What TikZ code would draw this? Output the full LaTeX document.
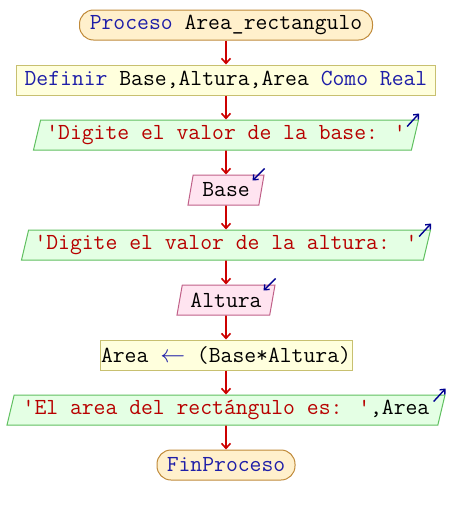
\documentclass[tikz,border=0pt]{standalone}
\usepackage{fontspec}
\usetikzlibrary{arrows.meta,shapes.geometric}
\definecolor{kwblue}{HTML}{1E1EA8}
\definecolor{strred}{HTML}{B80000}
\definecolor{flowred}{HTML}{CC0000}
\definecolor{iodark}{HTML}{000090}
\definecolor{termfill}{HTML}{FFF0CC}
\definecolor{termline}{HTML}{C08A3A}
\definecolor{procfill}{HTML}{FFFFDD}
\definecolor{procline}{HTML}{C8C070}
\definecolor{outfill}{HTML}{E4FFE4}
\definecolor{outline}{HTML}{60C060}
\definecolor{infill}{HTML}{FFE4F0}
\definecolor{inline}{HTML}{C06088}

\begin{document}
\begin{tikzpicture}[x=1pt,y=-1pt,font=\ttfamily\fontsize{23}{24}\selectfont,
  term/.style={draw=termline,fill=termfill,rounded corners=14pt,minimum height=30pt,inner sep=0pt,line width=1pt},
  proc/.style={draw=procline,fill=procfill,minimum height=30pt,inner sep=0pt,line width=1pt},
  io/.style={trapezium,trapezium left angle=70,trapezium right angle=110,trapezium stretches body,minimum height=30pt,inner sep=0pt,line width=1pt},
  outbox/.style={io,draw=outline,fill=outfill,text=strred},
  inbox/.style={io,draw=inline,fill=infill},
  flow/.style={draw=flowred,line width=1.6pt,-{Straight Barb[length=5pt,width=9pt]}},
  iomark/.style={draw=iodark,line width=1.4pt,-{Straight Barb[length=4pt,width=7pt]}}]
\useasboundingbox (0,0) rectangle (452,515);

\node[term,minimum width=293pt] (a) at (226,25) {\textcolor{kwblue}{Proceso} Area\_rectangulo};
\node[proc,minimum width=419pt] (b) at (226,80) {\textcolor{kwblue}{Definir} Base,Altura,Area \textcolor{kwblue}{Como Real}};
\node[outbox,minimum width=385pt] (c) at (226,135) {'Digite el valor de la base: '};
\node[inbox,minimum width=76pt] (d) at (226,190) {Base};
\node[outbox,minimum width=409pt] (e) at (226,245) {'Digite el valor de la altura: '};
\node[inbox,minimum width=98pt] (f) at (226,300) {Altura};
\node[proc,minimum width=252pt] (g) at (226,355) {Area \textcolor{kwblue}{$\leftarrow$} (Base*Altura)};
\node[outbox,minimum width=438pt] (h) at (226,410) {'El area del rectángulo es: '\textcolor{black}{,Area}};
\node[term,minimum width=138pt] (i) at (226,465) {\textcolor{kwblue}{FinProceso}};

\path
(a) edge[flow] (b)
(b) edge[flow] (c)
(c) edge[flow] (d)
(d) edge[flow] (e)
(e) edge[flow] (f)
(f) edge[flow] (g)
(g) edge[flow] (h)
(h) edge[flow] (i);

\draw[iomark] ([shift={(-12,7)}]c.top right corner) -- ([shift={(0,-6)}]c.top right corner);
\draw[iomark] ([shift={(0,-6)}]d.top right corner) -- ([shift={(-12,6)}]d.top right corner);
\draw[iomark] ([shift={(-12,7)}]e.top right corner) -- ([shift={(0,-6)}]e.top right corner);
\draw[iomark] ([shift={(0,-6)}]f.top right corner) -- ([shift={(-12,6)}]f.top right corner);
\draw[iomark] ([shift={(-12,7)}]h.top right corner) -- ([shift={(0,-6)}]h.top right corner);
\end{tikzpicture}
\end{document}
